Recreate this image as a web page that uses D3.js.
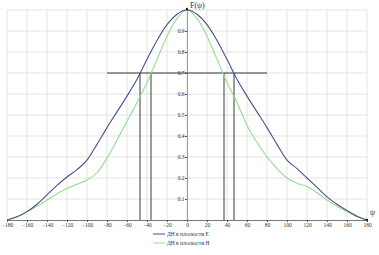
<!DOCTYPE html>
<html>
<head>
<meta charset="utf-8">
<script src="https://cdn.jsdelivr.net/npm/d3@7"></script>
<style>
  body { margin: 0; background: #fff; }
  svg { display: block; }
  text { font-family: "Liberation Serif", "DejaVu Serif", serif; fill: #333; }
</style>
</head>
<body>
<div id="chart"></div>
<script>
// angles, degrees
const angles = [-180,-170,-160,-150,-140,-130,-120,-110,-100,-90,-80,-70,-60,-50,-40,-30,-20,-10,0,
  10,20,30,40,50,60,70,80,90,100,110,120,130,140,150,160,170,180]
// pattern in plane E
const planeE = [0,0.015,0.04,0.075,0.12,0.165,0.205,0.24,0.285,0.36,0.44,0.515,0.59,0.67,0.765,0.855,0.93,0.98,1.0,
  0.98,0.93,0.855,0.765,0.67,0.59,0.515,0.44,0.36,0.285,0.245,0.2,0.155,0.11,0.075,0.045,0.018,0]
// pattern in plane H
const planeH = [0,0.015,0.04,0.065,0.095,0.125,0.15,0.17,0.19,0.225,0.295,0.38,0.47,0.56,0.655,0.765,0.875,0.96,1.0,
  0.96,0.875,0.765,0.655,0.56,0.45,0.37,0.3,0.245,0.2,0.175,0.16,0.13,0.095,0.065,0.04,0.015,0]
const xTicks = [-180,-160,-140,-120,-100,-80,-60,-40,-20,0,20,40,60,80,100,120,140,160,180]
const yTicks = [0.1,0.2,0.3,0.4,0.5,0.6,0.7,0.8,0.9]
// level 0.7 and where each curve crosses it
const level = [0.7]
const levelSpan = [-80, 80]
const crossings = [-47, -36, 37, 47]
const legendLabels = ["ДН в плоскости E", "ДН в плоскости H"]
const colors = ["#4e4e88", "#93dd93"]

const width = 379, height = 255
const x = d3.scaleLinear().domain([-180, 180]).range([7, 367])
const y = d3.scaleLinear().domain([0, 1]).range([220, 10])

const svg = d3.select("#chart").append("svg")
  .attr("width", width)
  .attr("height", height)

// grid
svg.append("g").selectAll("line")
  .data(xTicks)
  .join("line")
  .attr("x1", d => x(d)).attr("x2", d => x(d))
  .attr("y1", y(1)).attr("y2", y(0))
  .attr("stroke", "#dcdcdc").attr("stroke-width", 0.8)

svg.append("g").selectAll("line")
  .data(yTicks.concat([1]))
  .join("line")
  .attr("x1", x(-180)).attr("x2", x(180))
  .attr("y1", d => y(d)).attr("y2", d => y(d))
  .attr("stroke", "#dcdcdc").attr("stroke-width", 0.8)

// x axis at 0
const xAxis = svg.append("g")
  .attr("transform", "translate(0," + y(0) + ")")
  .call(d3.axisBottom(x).tickValues(xTicks).tickSize(2).tickFormat(d3.format("d")))
xAxis.select(".domain").attr("stroke", "#555").attr("stroke-width", 0.8)
xAxis.selectAll(".tick line").attr("stroke", "#555")
xAxis.selectAll("text").attr("font-size", 5.5).attr("dy", "0.4em")
  .style("font-family", "Liberation Serif").attr("fill", "#444")

// y axis at 0 degrees
const yAxis = svg.append("g")
  .attr("transform", "translate(" + x(0) + ",0)")
  .call(d3.axisLeft(y).tickValues(yTicks).tickSize(2).tickFormat(d3.format(".1f")))
yAxis.select(".domain").attr("stroke", "#666").attr("stroke-width", 0.6)
yAxis.selectAll(".tick line").attr("stroke", "#555")
yAxis.selectAll("text").attr("font-size", 5.5).attr("x", -2.5)
  .style("font-family", "Liberation Serif").attr("fill", "#444")

// level line and crossings
svg.append("line")
  .attr("x1", x(levelSpan[0])).attr("x2", x(levelSpan[1]))
  .attr("y1", y(level[0])).attr("y2", y(level[0]))
  .attr("stroke", "#3a3a3a").attr("stroke-width", 1)

svg.append("g").selectAll("line")
  .data(crossings)
  .join("line")
  .attr("x1", d => x(d)).attr("x2", d => x(d))
  .attr("y1", y(level[0])).attr("y2", y(0))
  .attr("stroke", "#3a3a3a").attr("stroke-width", 1)

// curves
const line = d3.line()
  .x((d, i) => x(angles[i]))
  .y(d => y(d))
  .curve(d3.curveMonotoneX)

svg.append("path")
  .attr("d", line(planeH))
  .attr("fill", "none").attr("stroke", colors[1]).attr("stroke-width", 1.1)

svg.append("path")
  .attr("d", line(planeE))
  .attr("fill", "none").attr("stroke", colors[0]).attr("stroke-width", 1.1)

// axis markers
svg.append("circle").attr("cx", x(0)).attr("cy", y(1) - 1).attr("r", 1.2).attr("fill", "#222")
svg.append("circle").attr("cx", x(180)).attr("cy", y(0)).attr("r", 1.2).attr("fill", "#222")

svg.append("text").attr("x", x(0) + 3).attr("y", 8)
  .attr("font-size", 8).text("F(ψ)")
svg.append("text").attr("x", x(180) + 3).attr("y", y(0) - 5)
  .attr("font-size", 8).text("ψ")

// legend
const legend = svg.append("g").selectAll("g")
  .data(legendLabels)
  .join("g")
  .attr("transform", (d, i) => "translate(153," + (234 + i * 9) + ")")
legend.append("line")
  .attr("x1", 0).attr("x2", 12)
  .attr("stroke", (d, i) => colors[i]).attr("stroke-width", 1)
legend.append("text")
  .attr("x", 14).attr("dy", "0.35em")
  .attr("font-size", 5.5).attr("fill", "#444")
  .text(d => d)
</script>
</body>
</html>
